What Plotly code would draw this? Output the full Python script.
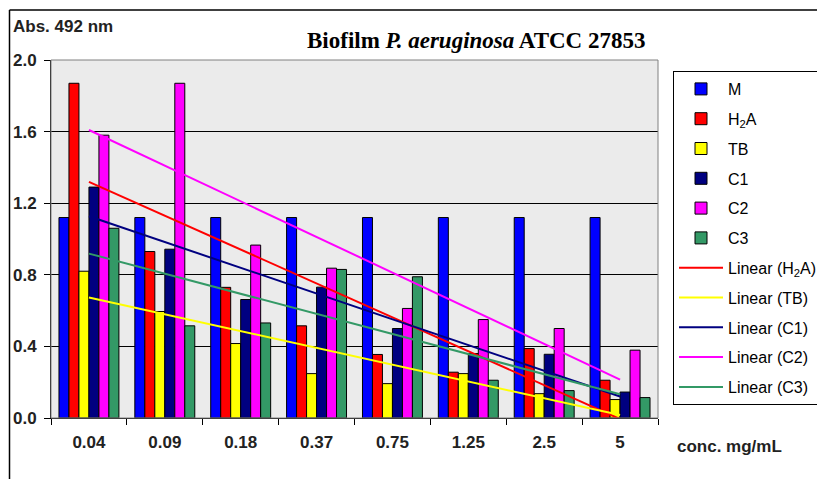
import numpy as np
import plotly.graph_objects as go

categories = ["0.04", "0.09", "0.18", "0.37", "0.75", "1.25", "2.5", "5"]
M   = [1.12, 1.12, 1.12, 1.12, 1.12, 1.12, 1.12, 1.12]
H2A = [1.87, 0.93, 0.73, 0.515, 0.355, 0.256, 0.388, 0.211]
TB  = [0.82, 0.595, 0.416, 0.248, 0.192, 0.248, 0.136, 0.103]
C1  = [1.29, 0.943, 0.662, 0.731, 0.50, 0.36, 0.356, 0.145]
C2  = [1.58, 1.87, 0.966, 0.837, 0.612, 0.55, 0.50, 0.379]
C3  = [1.06, 0.515, 0.531, 0.83, 0.789, 0.211, 0.153, 0.114]
y_ticks = [0.0, 0.4, 0.8, 1.2, 1.6, 2.0]

series = [
    ("M", M, "#0000FF", False),
    ("H<sub>2</sub>A", H2A, "#FF0000", True),
    ("TB", TB, "#FFFF00", True),
    ("C1", C1, "#000080", True),
    ("C2", C2, "#FF00FF", True),
    ("C3", C3, "#339966", True),
]

fig = go.Figure()
for name, vals, col, _ in series:
    fig.add_trace(go.Bar(
        x=categories, y=vals, name=name,
        marker=dict(color=col, line=dict(color="black", width=1)),
        legendgroup=name,
    ))

xi = np.arange(1, len(categories) + 1)
for name, vals, col, trend in series:
    if not trend:
        continue
    slope, icpt = np.polyfit(xi, np.array(vals), 1)
    ends = [slope * xi[0] + icpt, slope * xi[-1] + icpt]
    fig.add_trace(go.Scatter(
        x=[categories[0], categories[-1]], y=ends, mode="lines",
        name="Linear (" + name + ")",
        line=dict(color=col, width=2),
        legendgroup="lin" + name,
    ))

# page body has an 8px margin: work in screen pixels, then shift
O = 8
W, H = 825 - O, 479 - O
L, R, T, B = 51 - O, 658 - O, 60 - O, 418 - O
pw, ph = R - L, B - T

def px(xs):
    return (xs - O - L) / pw

def py(ys):
    return (B - (ys - O)) / ph

SANS = "Liberation Sans, Arial"

fig.update_layout(
    width=W, height=H,
    margin=dict(l=L, r=W - R, t=T, b=H - B, pad=0, autoexpand=False),
    paper_bgcolor="white",
    plot_bgcolor="#ebebeb",
    barmode="group", bargap=0.21, bargroupgap=0,
    showlegend=True,
    legend=dict(
        x=px(673), y=py(71), xanchor="left", yanchor="top",
        bgcolor="white", bordercolor="black", borderwidth=1,
        font=dict(family=SANS, size=16, color="black"),
        tracegroupgap=6,
        itemwidth=44,
        traceorder="grouped",
    ),
    xaxis=dict(
        type="category",
        showline=True, linecolor="black", linewidth=1,
        ticks="outside", tickson="boundaries", ticklen=6, tickcolor="black",
        tickfont=dict(family=SANS, size=17, color="#222", weight="bold"),
        ticklabelstandoff=9,
        showgrid=False, zeroline=False,
    ),
    yaxis=dict(
        range=[0, 2.0], tickvals=y_ticks, ticktext=["%.1f" % v for v in y_ticks],
        showline=True, linecolor="black", linewidth=1,
        ticks="outside", ticklen=6, tickcolor="black",
        tickfont=dict(family=SANS, size=17, color="#222", weight="bold"),
        ticklabelstandoff=4,
        showgrid=True, gridcolor="black", gridwidth=1, zeroline=False,
    ),
    shapes=[
        dict(type="rect", xref="paper", yref="paper", x0=0, y0=0, x1=1, y1=1,
             line=dict(color="#808080", width=1), layer="above"),
        dict(type="line", xref="paper", yref="paper", x0=px(9.5), x1=px(840), y0=py(10), y1=py(10),
             line=dict(color="black", width=1.5)),
        dict(type="line", xref="paper", yref="paper", x0=px(9.5), x1=px(9.5), y0=py(10), y1=py(495),
             line=dict(color="black", width=1.5)),
    ],
    annotations=[
        dict(text="Biofilm <i>P. aeruginosa</i> ATCC 27853", xref="paper", yref="paper",
             x=px(476), y=py(41), xanchor="center", yanchor="middle", showarrow=False,
             font=dict(family="Liberation Serif, Times New Roman", size=23, color="black", weight="bold")),
        dict(text="<b>Abs. 492 nm</b>", xref="paper", yref="paper",
             x=px(11), y=py(26), xanchor="left", yanchor="middle", showarrow=False,
             font=dict(family=SANS, size=17, color="#222")),
        dict(text="<b>conc. mg/mL</b>", xref="paper", yref="paper",
             x=px(675), y=py(446), xanchor="left", yanchor="middle", showarrow=False,
             font=dict(family=SANS, size=17, color="#222")),
    ],
)

fig.write_html("out.html")
